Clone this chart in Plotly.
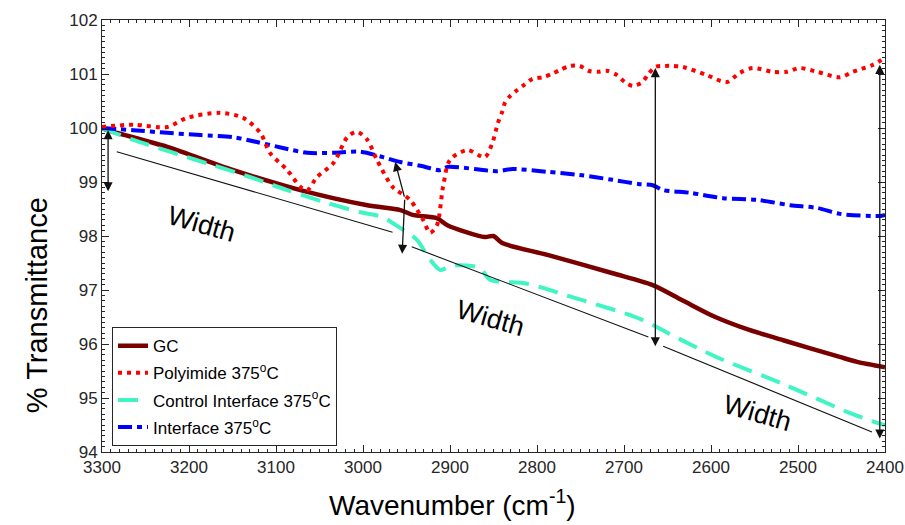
import plotly.graph_objects as go

# ---------------- data ----------------
gc_x = [3300, 3294, 3225, 3149, 3072, 2995, 2957, 2943, 2915, 2903, 2860, 2850, 2840, 2788, 2713, 2667, 2633, 2595, 2556, 2517, 2452, 2432, 2400]
gc_y = [100.0, 99.96, 99.65, 99.22, 98.85, 98.57, 98.48, 98.39, 98.33, 98.20, 97.98, 98.0, 97.87, 97.65, 97.31, 97.09, 96.81, 96.5, 96.26, 96.07, 95.76, 95.67, 95.57]

poly_x = [3300, 3264, 3225, 3202, 3164, 3138, 3118, 3107, 3087, 3072, 3064, 3053, 3034, 3018, 3007, 2995, 2984, 2966, 2946, 2931, 2923, 2915, 2908, 2900, 2880, 2860, 2851, 2845, 2840, 2837, 2831, 2823, 2814, 2805, 2793, 2783, 2774, 2762, 2751, 2741, 2730, 2720, 2708, 2699, 2690, 2679, 2672, 2664, 2653, 2644, 2632, 2605, 2582, 2567, 2552, 2529, 2513, 2498, 2478, 2452, 2437, 2414, 2400]
poly_y = [100.02, 100.06, 100.02, 100.19, 100.28, 100.19, 99.91, 99.54, 99.22, 98.91, 98.85, 99.09, 99.35, 99.83, 99.93, 99.78, 99.41, 98.91, 98.67, 98.3, 98.06, 98.2, 98.91, 99.41, 99.59, 99.46, 99.74, 100.09, 100.3, 100.46, 100.59, 100.7, 100.81, 100.91, 100.94, 101.0, 101.07, 101.15, 101.15, 101.06, 101.04, 101.06, 100.98, 100.85, 100.78, 100.85, 101.0, 101.13, 101.15, 101.15, 101.13, 100.98, 100.85, 101.02, 101.11, 101.04, 101.04, 101.11, 101.04, 100.94, 101.04, 101.17, 101.3]

ctrl_x = [3300, 3264, 3210, 3172, 3126, 3087, 3041, 3003, 2977, 2966, 2938, 2925, 2911, 2900, 2891, 2866, 2854, 2837, 2816, 2793, 2774, 2687, 2664, 2648, 2594, 2517, 2440, 2409, 2400]
ctrl_y = [100.0, 99.78, 99.5, 99.31, 99.07, 98.85, 98.61, 98.44, 98.35, 98.24, 97.93, 97.61, 97.37, 97.44, 97.46, 97.41, 97.19, 97.15, 97.13, 97.04, 96.94, 96.5, 96.33, 96.19, 95.76, 95.26, 94.72, 94.54, 94.5]

intf_x = [3300, 3264, 3225, 3187, 3149, 3122, 3092, 3064, 3034, 3003, 2977, 2957, 2934, 2911, 2903, 2846, 2828, 2789, 2751, 2713, 2682, 2667, 2655, 2624, 2586, 2547, 2509, 2478, 2452, 2406, 2400]
intf_y = [100.0, 99.96, 99.91, 99.87, 99.83, 99.74, 99.63, 99.54, 99.54, 99.56, 99.46, 99.37, 99.3, 99.22, 99.28, 99.2, 99.24, 99.19, 99.13, 99.04, 98.96, 98.94, 98.85, 98.8, 98.7, 98.67, 98.57, 98.52, 98.41, 98.37, 98.39]

series_names = ["GC", "Polyimide 375<sup>o</sup>C", "Control Interface 375<sup>o</sup>C", "Interface 375<sup>o</sup>C"]

x_ticks = [3300, 3200, 3100, 3000, 2900, 2800, 2700, 2600, 2500, 2400]
y_ticks = [94, 95, 96, 97, 98, 99, 100, 101, 102]

# annotation geometry (data units)
dbl_arrows = [  # x, y_top, y_bottom
    (3293, 99.96, 98.8),
    (2664, 101.11, 95.93),
    (2406, 101.17, 94.22),
]
bent_arrow = [(2963, 99.37), (2952, 98.7), (2955, 97.67)]
width_lines = [
    ((3283, 99.56), (2966, 98.07)),
    ((2944, 97.80), (2672, 96.13)),
    ((2655, 95.96), (2415, 94.37)),
]
width_labels = [(3186, 98.22), (2854, 96.48), (2547, 94.72)]

# ---------------- figure ----------------
FONT = "Liberation Sans, Arial, Helvetica, sans-serif"
fig = go.Figure()

styles = [
    dict(color="#7a0000", width=4.5, dash="solid"),
    dict(color="#ff0000", width=4, dash="4px,5px"),
    dict(color="#40f4c4", width=4, dash="20px,10px"),
    dict(color="#0000ff", width=4, dash="14px,5px,5px,5px"),
]
data = [(gc_x, gc_y), (poly_x, poly_y), (ctrl_x, ctrl_y), (intf_x, intf_y)]
order = [0, 2, 3, 1]  # draw order
traces = {}
for i, ((xs, ys), st, nm) in enumerate(zip(data, styles, series_names)):
    traces[i] = go.Scatter(x=xs, y=ys, mode="lines", name=nm,
                           line=dict(shape="spline", smoothing=0.8, **st),
                           legendgroup=f"g{i}", legendrank=i + 1)
for i in order:
    fig.add_trace(traces[i])

ann = []
for (x, yt, yb) in dbl_arrows:
    ann.append(dict(x=x, y=yt, ax=x, ay=yb, xref="x", yref="y", axref="x", ayref="y",
                    showarrow=True, arrowhead=2, arrowsize=1.4, arrowwidth=1.3,
                    arrowside="end+start", arrowcolor="#111111", text=""))
(tx, ty), (mx, my), (bx, by) = bent_arrow
ann.append(dict(x=tx, y=ty, ax=mx, ay=my, xref="x", yref="y", axref="x", ayref="y",
                showarrow=True, arrowhead=2, arrowsize=1.4, arrowwidth=1.3,
                arrowcolor="#111111", text=""))
ann.append(dict(x=bx, y=by, ax=mx, ay=my, xref="x", yref="y", axref="x", ayref="y",
                showarrow=True, arrowhead=2, arrowsize=1.4, arrowwidth=1.3,
                arrowcolor="#111111", text=""))
for (lx, ly) in width_labels:
    ann.append(dict(x=lx, y=ly, xref="x", yref="y", text="Width", showarrow=False,
                    textangle=16, font=dict(family=FONT, size=27, color="black")))

# axis titles as annotations (offset from centre like the reference)
ann.append(dict(x=-0.083, y=0.34, xref="paper", yref="paper", xanchor="center", yanchor="middle",
                text="% Transmittance", textangle=-90, showarrow=False,
                font=dict(family=FONT, size=29, color="black")))
ann.append(dict(x=0.447, y=-0.118, xref="paper", yref="paper", xanchor="center", yanchor="middle",
                text="Wavenumber (cm<sup>-1</sup>)", showarrow=False,
                font=dict(family=FONT, size=28, color="black")))

shapes = []
for (p0, p1) in width_lines:
    shapes.append(dict(type="line", xref="x", yref="y", x0=p0[0], y0=p0[1], x1=p1[0], y1=p1[1],
                       line=dict(color="#111111", width=1.1)))

axis_common = dict(showgrid=False, zeroline=False, showline=True, linecolor="#262626",
                   linewidth=1, mirror="ticks", ticks="inside", tickcolor="#262626",
                   automargin=False,
                   tickfont=dict(family=FONT, size=17, color="#262626"))

fig.update_layout(
    width=905, height=525,
    margin=dict(l=102, r=20, t=20, b=73),
    plot_bgcolor="white", paper_bgcolor="white",
    showlegend=True,
    legend=dict(x=0.0128, y=0.289, xanchor="left", yanchor="top",
                bgcolor="white", bordercolor="#262626", borderwidth=1,
                font=dict(family=FONT, size=17, color="black"),
                traceorder="grouped", tracegroupgap=2, itemwidth=30),
    xaxis=dict(range=[3300, 2400], tickvals=x_ticks, ticklen=7,
               minor=dict(dtick=10, ticklen=3, ticks="inside", tickcolor="#262626"),
               **axis_common),
    yaxis=dict(range=[94, 102], tickvals=y_ticks, ticklen=7,
               minor=dict(dtick=0.1, ticklen=3, ticks="inside", tickcolor="#262626"),
               **axis_common),
    annotations=ann, shapes=shapes,
)

fig.write_html("out.html")
